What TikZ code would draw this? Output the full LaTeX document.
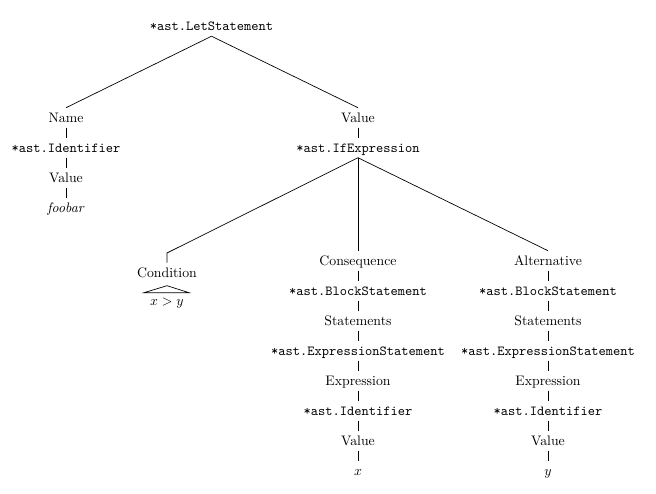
\documentclass[tikz,border=0pt]{standalone}
\begin{document}
\begin{tikzpicture}[x=0.725pt,y=-0.725pt,
  every node/.style={anchor=base,inner xsep=1pt,inner ysep=0pt,text height=10.5pt,text depth=3.6pt},
  ast/.style={font=\ttfamily},
  edge/.style={draw=black,line width=0.5pt}]
\useasboundingbox (0,0) rectangle (656,494);
% top
\node[ast] (let) at (211.5,31) {*ast.LetStatement};
% left branch
\node (name) at (66,122.5) {Name};
\node[ast] (lid) at (66,152.5) {*ast.Identifier};
\node (lval) at (66,182.5) {Value};
\node (foo) at (66,212.5) {\textit{foobar}};
% right branch
\node (rval) at (358,122.5) {Value};
\node[ast] (ifx) at (358,152.5) {*ast.IfExpression};
% condition
\node (cond) at (167,277.5) {Condition};
\coordinate (condtop) at (167,253);
\node (xy) at (167,305.8) {$x>y$};
% consequence
\node (cons) at (358,265.5) {Consequence};
\node[ast] (cbs) at (358,295.5) {*ast.BlockStatement};
\node (cst) at (358,325.5) {Statements};
\node[ast] (ces) at (358,355.5) {*ast.ExpressionStatement};
\node (cex) at (358,385.5) {Expression};
\node[ast] (cid) at (358,415.5) {*ast.Identifier};
\node (cva) at (358,445.5) {Value};
\node (cx) at (358,475.5) {$x$};
% alternative
\node (alt) at (548,265.5) {Alternative};
\node[ast] (abs) at (548,295.5) {*ast.BlockStatement};
\node (ast) at (548,325.5) {Statements};
\node[ast] (aes) at (548,355.5) {*ast.ExpressionStatement};
\node (aex) at (548,385.5) {Expression};
\node[ast] (aid) at (548,415.5) {*ast.Identifier};
\node (ava) at (548,445.5) {Value};
\node (ay) at (548,475.5) {$y$};
% edges
\draw[edge] (let.south) -- (name.north);
\draw[edge] (let.south) -- (rval.north);
\draw[edge] (name.south) -- (lid.north);
\draw[edge] (lid.south) -- (lval.north);
\draw[edge] (lval.south) -- (foo.north);
\draw[edge] (rval.south) -- (ifx.north);
\draw[edge] (ifx.south) -- (condtop) -- (cond.north);
\draw[edge] (ifx.south) -- (cons.north);
\draw[edge] (ifx.south) -- (alt.north);
\draw[edge] (cons.south) -- (cbs.north);
\draw[edge] (cbs.south) -- (cst.north);
\draw[edge] (cst.south) -- (ces.north);
\draw[edge] (ces.south) -- (cex.north);
\draw[edge] (cex.south) -- (cid.north);
\draw[edge] (cid.south) -- (cva.north);
\draw[edge] (cva.south) -- (cx.north);
\draw[edge] (alt.south) -- (abs.north);
\draw[edge] (abs.south) -- (ast.north);
\draw[edge] (ast.south) -- (aes.north);
\draw[edge] (aes.south) -- (aex.north);
\draw[edge] (aex.south) -- (aid.north);
\draw[edge] (aid.south) -- (ava.north);
\draw[edge] (ava.south) -- (ay.north);
% roof
\draw[edge] (167,285.7) -- (144,292.7) -- (189,292.7) -- cycle;
\end{tikzpicture}
\end{document}
